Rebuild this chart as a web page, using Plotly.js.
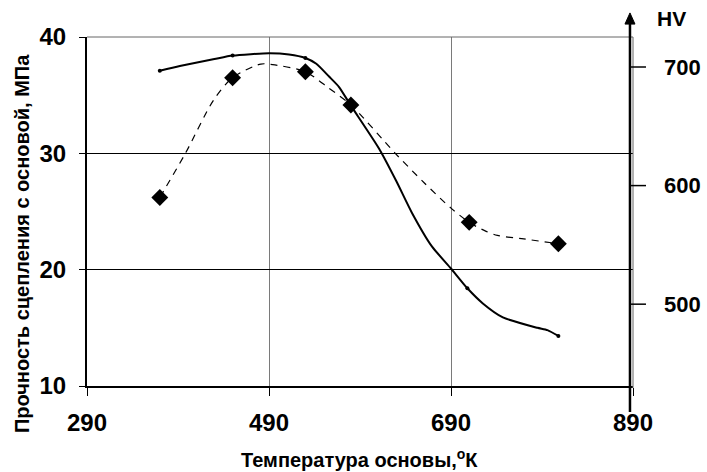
<!DOCTYPE html>
<html><head><meta charset="utf-8">
<script src="https://cdn.plot.ly/plotly-3.0.1.min.js"></script>
<style>html,body{margin:0;padding:0;background:#fff;overflow:hidden}#chart{width:707px;height:472px}</style>
</head><body><div id="chart"></div>
<script>
// Strength curve (solid): temperature (K), MPa
var strengthT   = [370, 392, 430, 450, 490, 512, 530, 542, 556, 567, 580, 611, 630, 647, 669, 690, 708, 725, 747, 785, 796, 808];
var strengthMPa = [37.1, 37.5, 38.1, 38.4, 38.6, 38.5, 38.2, 37.7, 36.6, 35.7, 34.1, 30.4, 27.6, 24.9, 22.0, 20.1, 18.4, 17.1, 15.9, 15.0, 14.8, 14.3];
// Small dots on the solid curve
var dotT   = [370, 450, 530, 708, 808];
var dotMPa = [37.1, 38.4, 38.2, 18.4, 14.3];
// Hardness (dashed), traced curve: temperature (K), HV
var hvCurveT = [370, 398, 429, 450, 481, 494, 530, 556, 580, 629, 661, 690, 710, 727, 741, 770, 808];
var hvCurve  = [590, 627, 672, 691, 702.5, 702, 696, 682, 668, 627, 602, 581, 569, 562, 558, 555, 551];
// Hardness measured points (diamonds)
var hvT   = [370, 450, 530, 580, 710, 808];
var hvVal = [590, 691, 696, 668, 569, 551];

var xTicks  = [290, 490, 690, 890];
var yTicks  = [10, 20, 30, 40];
var y2Ticks = [500, 600, 700];
var y2Range = [431, 725.3];

var xTitle  = 'Температура основы,<sup>o</sup>К';
var yTitle  = 'Прочность сцепления с основой, МПа';
var y2Title = 'HV';

function bold(a) { return a.map(function (v) { return '<b>' + v + '</b>'; }); }
function y2frac(v) { return (v - y2Range[0]) / (y2Range[1] - y2Range[0]); }

var FAM = 'Liberation Sans, Arial, sans-serif';
var tickFont = {family: FAM, size: 24, color: '#000'};
var XD = 0.8835;   // right end of plot domain
var XA = 0.8786;   // HV axis line position

var traces = [
  {x: strengthT, y: strengthMPa, type: 'scatter', mode: 'lines',
   line: {color: '#000', width: 2, shape: 'spline', smoothing: 0.6}, yaxis: 'y', hoverinfo: 'skip'},
  {x: dotT, y: dotMPa, type: 'scatter', mode: 'markers',
   marker: {color: '#000', size: 4}, yaxis: 'y', hoverinfo: 'skip'},
  {x: hvCurveT, y: hvCurve, type: 'scatter', mode: 'lines',
   line: {color: '#000', width: 1.2, dash: '7px,6px', shape: 'spline', smoothing: 0.8}, yaxis: 'y2', hoverinfo: 'skip'},
  {x: hvT, y: hvVal, type: 'scatter', mode: 'markers',
   marker: {color: '#000', size: 13, symbol: 'diamond'}, yaxis: 'y2', hoverinfo: 'skip'}
];

var shapes = [
  {type: 'line', xref: 'paper', yref: 'paper', x0: 0, x1: XD, y0: 1, y1: 1, line: {color: '#666', width: 1}},
  {type: 'line', xref: 'paper', yref: 'paper', x0: XD, x1: XD, y0: -0.006, y1: 1, line: {color: '#666', width: 1}},
  {type: 'line', xref: 'paper', yref: 'paper', x0: XA, x1: XA, y0: -0.0745, y1: 1.045, line: {color: '#000', width: 2.5}},
  {type: 'path', xref: 'paper', yref: 'paper', path: 'M 0.8705 1.037 L 0.8867 1.037 L 0.8786 1.069 Z', fillcolor: '#000', line: {color: '#000', width: 1}}
];
var annotations = [
  {text: '<b>' + y2Title + '</b>', xref: 'paper', yref: 'paper', x: 0.945, y: 1.054, xanchor: 'center', yanchor: 'middle',
   showarrow: false, font: {family: FAM, size: 21, color: '#000'}},
  {text: '<b>' + xTitle + '</b>', xref: 'paper', yref: 'paper', x: 0.4417, y: -0.209, xanchor: 'center', yanchor: 'middle',
   showarrow: false, font: {family: FAM, size: 20, color: '#000'}},
  {text: '<b>' + yTitle + '</b>', xref: 'paper', yref: 'paper', x: -0.105, y: 0.407, xanchor: 'center', yanchor: 'middle',
   textangle: -90, showarrow: false, font: {family: FAM, size: 20, color: '#000'}}
];
// right-hand HV ticks and labels placed on the HV scale
y2Ticks.forEach(function (v) {
  var f = y2frac(v);
  shapes.push({type: 'line', xref: 'paper', yref: 'paper', x0: XA, x1: 0.9045, y0: f, y1: f, line: {color: '#000', width: 1.5}});
  annotations.push({text: '<b>' + v + '</b>', xref: 'paper', yref: 'paper', x: 0.9304, y: f, xanchor: 'left', yanchor: 'middle',
    showarrow: false, font: {family: FAM, size: 22, color: '#000'}});
});

var layout = {
  width: 707, height: 472,
  margin: {l: 87, r: 2, t: 37, b: 86},
  paper_bgcolor: '#fff', plot_bgcolor: '#fff',
  showlegend: false,
  font: {family: FAM, color: '#000'},
  xaxis: {
    domain: [0, XD],
    range: [290, 890], tickvals: xTicks, ticktext: bold(xTicks),
    showgrid: true, gridcolor: '#7a7a7a', gridwidth: 1,
    showline: true, linecolor: '#000', linewidth: 2,
    ticks: 'outside', ticklen: 8, tickcolor: '#000', tickwidth: 1,
    ticklabelstandoff: 6,
    tickfont: tickFont, zeroline: false
  },
  yaxis: {
    range: [10, 40], tickvals: yTicks, ticktext: bold(yTicks),
    showgrid: true, gridcolor: '#000', gridwidth: 1,
    showline: true, linecolor: '#000', linewidth: 2,
    ticks: 'outside', ticklen: 6, tickcolor: '#000', tickwidth: 1,
    ticklabelstandoff: 8,
    tickfont: tickFont, zeroline: false
  },
  yaxis2: {
    overlaying: 'y', side: 'right', anchor: 'x',
    range: y2Range, showticklabels: false, ticks: '',
    showgrid: false, showline: false, zeroline: false
  },
  shapes: shapes,
  annotations: annotations
};

Plotly.newPlot('chart', traces, layout, {displayModeBar: false, staticPlot: true});
</script>
</body></html>
